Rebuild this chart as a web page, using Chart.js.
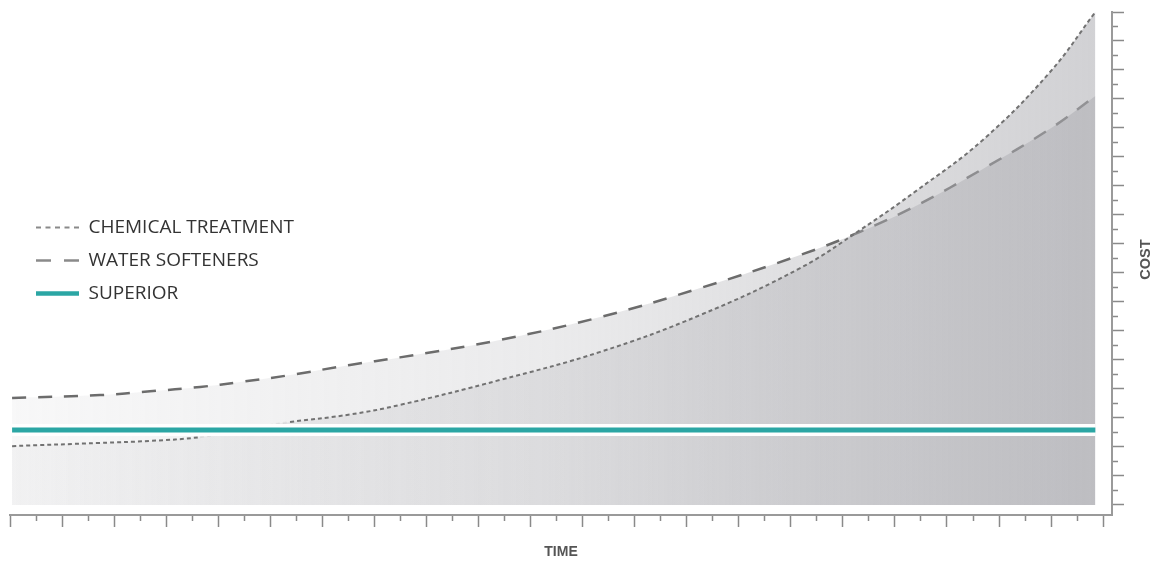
<!DOCTYPE html>
<html>
<head>
<meta charset="utf-8">
<script src="https://cdn.jsdelivr.net/npm/chart.js@4/dist/chart.umd.min.js"></script>
<style>
  html, body { margin: 0; padding: 0; background: #ffffff; }
  #wrap { width: 1161px; height: 564px; }
</style>
</head>
<body>
<div id="wrap"><canvas id="c" width="1161" height="564"></canvas></div>
<script>
// ---- data ----
const seriesNames = ['CHEMICAL TREATMENT', 'WATER SOFTENERS', 'SUPERIOR'];
const timePoints = [0.04, 1.73, 2.69, 3.65, 4.42, 5.38, 6.53, 7.49, 9.41, 11.34, 13.26, 15.18, 16.33, 17.43, 18.69, 19.98, 20.85];
const chemicalValues = [2.03, 2.14, 2.21, 2.34, 2.59, 2.86, 3.12, 3.45, 4.31, 5.28, 6.55, 8.17, 9.48, 10.86, 12.59, 14.93, 17.00];
const softenerValues = [3.69, 3.79, 3.92, 4.07, 4.24, 4.48, 4.83, 5.09, 5.69, 6.48, 7.48, 8.62, 9.42, 10.34, 11.59, 12.97, 14.10];
const superiorTime = [0.04, 20.85];
const superiorValues = [2.59, 2.59];
const axisTitles = { x: 'TIME', y: 'COST' };
const timeRange = [0, 21.17];
const costRange = [-0.345, 17];
const tickStep = 0.5;

const toXY = (xs, ys) => xs.map((x, i) => ({ x: x, y: ys[i] }));

function fillGradient(context) {
  const chart = context.chart;
  const area = chart.chartArea;
  if (!area) return 'rgba(175,175,180,0.3)';
  const g = chart.ctx.createLinearGradient(area.left, 0, area.right, 0);
  g.addColorStop(0, 'rgba(175,175,180,0.09)');
  g.addColorStop(0.5, 'rgba(175,175,180,0.26)');
  g.addColorStop(0.75, 'rgba(175,175,180,0.42)');
  g.addColorStop(1, 'rgba(175,175,180,0.58)');
  return g;
}

const legendFix = {
  id: 'legendFix',
  afterLayout(chart) {
    const L = chart.legend;
    if (!L) return;
    const a = chart.chartArea;
    L.left = a.left + 12;
    L.right = L.left + L.width;
    L.top = 6;
    L.bottom = a.bottom;
    L.height = L.bottom - L.top;
  }
};

const costTitle = {
  id: 'costTitle',
  afterDraw(chart) {
    const s = chart.scales.y;
    const ctx = chart.ctx;
    ctx.save();
    ctx.font = 'bold 14.5px "Liberation Sans", Arial, sans-serif';
    ctx.fillStyle = '#555555';
    ctx.textAlign = 'center';
    ctx.textBaseline = 'middle';
    ctx.translate(s.left + 34, (s.top + s.bottom) / 2 - 4);
    ctx.rotate(-Math.PI / 2);
    ctx.fillText(axisTitles.y, 0, 0);
    ctx.restore();
  }
};

const tickDash = (ctx) => (ctx.tick && Math.abs(ctx.tick.value % 1) > 1e-6) ? [5, 60] : [];

new Chart(document.getElementById('c'), {
  type: 'line',
  data: {
    datasets: [
      {
        label: seriesNames[2],
        data: toXY(superiorTime, superiorValues),
        borderColor: '#2ba6a4',
        borderWidth: 5,
        pointRadius: 0,
        fill: false,
        order: 0
      },
      {
        label: 'halo',
        data: toXY(superiorTime, superiorValues),
        borderColor: '#ffffff',
        borderWidth: 12,
        pointRadius: 0,
        fill: false,
        order: 1
      },
      {
        label: seriesNames[0],
        data: toXY(timePoints, chemicalValues),
        borderColor: '#727272',
        borderWidth: 2,
        borderDash: [4, 3],
        pointRadius: 0,
        tension: 0.4,
        fill: 'origin',
        backgroundColor: fillGradient,
        segment: {
          borderColor: (c) => (c.p0.parsed.x >= 3.6 && c.p1.parsed.x <= 5.4) ? 'rgba(119,119,119,0.12)' : undefined
        },
        order: 2
      },
      {
        label: seriesNames[1],
        data: toXY(timePoints, softenerValues),
        borderColor: '#6c6c6c',
        borderWidth: 2.5,
        borderDash: [14, 12],
        pointRadius: 0,
        tension: 0.4,
        fill: 'origin',
        backgroundColor: fillGradient,
        order: 3
      }
    ]
  },
  options: {
    responsive: false,
    animation: false,
    events: [],
    layout: { padding: { left: 10, top: 12, right: 0, bottom: 0 } },
    plugins: {
      tooltip: { enabled: false },
      legend: {
        display: true,
        position: 'chartArea',
        align: 'center',
        labels: {
          usePointStyle: true,
          pointStyle: 'line',
          pointStyleWidth: 43,
          padding: 14,
          color: '#333333',
          font: { family: '"Open Sans", sans-serif', size: 19 },
          generateLabels: () => [
            { text: seriesNames[0], datasetIndex: 2, strokeStyle: '#8a8a8a', fillStyle: 'rgba(0,0,0,0)', lineWidth: 2, lineDash: [5, 4.5], pointStyle: 'line', fontColor: '#333333', hidden: false },
            { text: seriesNames[1], datasetIndex: 3, strokeStyle: '#8a8a8a', fillStyle: 'rgba(0,0,0,0)', lineWidth: 2.5, lineDash: [15, 13], pointStyle: 'line', fontColor: '#333333', hidden: false },
            { text: seriesNames[2], datasetIndex: 0, strokeStyle: '#2ba6a4', fillStyle: 'rgba(0,0,0,0)', lineWidth: 4.5, lineDash: [], pointStyle: 'line', fontColor: '#333333', hidden: false }
          ]
        }
      }
    },
    scales: {
      x: {
        type: 'linear',
        position: 'bottom',
        min: timeRange[0],
        max: timeRange[1],
        afterFit: (s) => { s.height = 49; },
        ticks: { display: false, stepSize: tickStep, includeBounds: false },
        grid: {
          drawOnChartArea: false,
          drawTicks: true,
          tickLength: 12,
          tickColor: '#8a8a8a',
          tickWidth: 1.5,
          tickBorderDash: tickDash
        },
        border: { display: true, color: '#9a9a9a', width: 2 },
        title: {
          display: true,
          text: axisTitles.x,
          color: '#555555',
          font: { family: '"Liberation Sans", Arial, sans-serif', size: 14, weight: 'bold' },
          padding: { top: 0, bottom: 3.6 }
        }
      },
      y: {
        type: 'linear',
        position: 'right',
        min: costRange[0],
        max: costRange[1],
        afterFit: (s) => { s.width = 49; },
        ticks: { display: false, stepSize: tickStep, includeBounds: false },
        grid: {
          drawOnChartArea: false,
          drawTicks: true,
          tickLength: 12,
          tickColor: '#8a8a8a',
          tickWidth: 1.5,
          tickBorderDash: tickDash
        },
        border: { display: true, color: '#9a9a9a', width: 2 },
        title: { display: false }
      }
    }
  },
  plugins: [legendFix, costTitle]
});
</script>
</body>
</html>
